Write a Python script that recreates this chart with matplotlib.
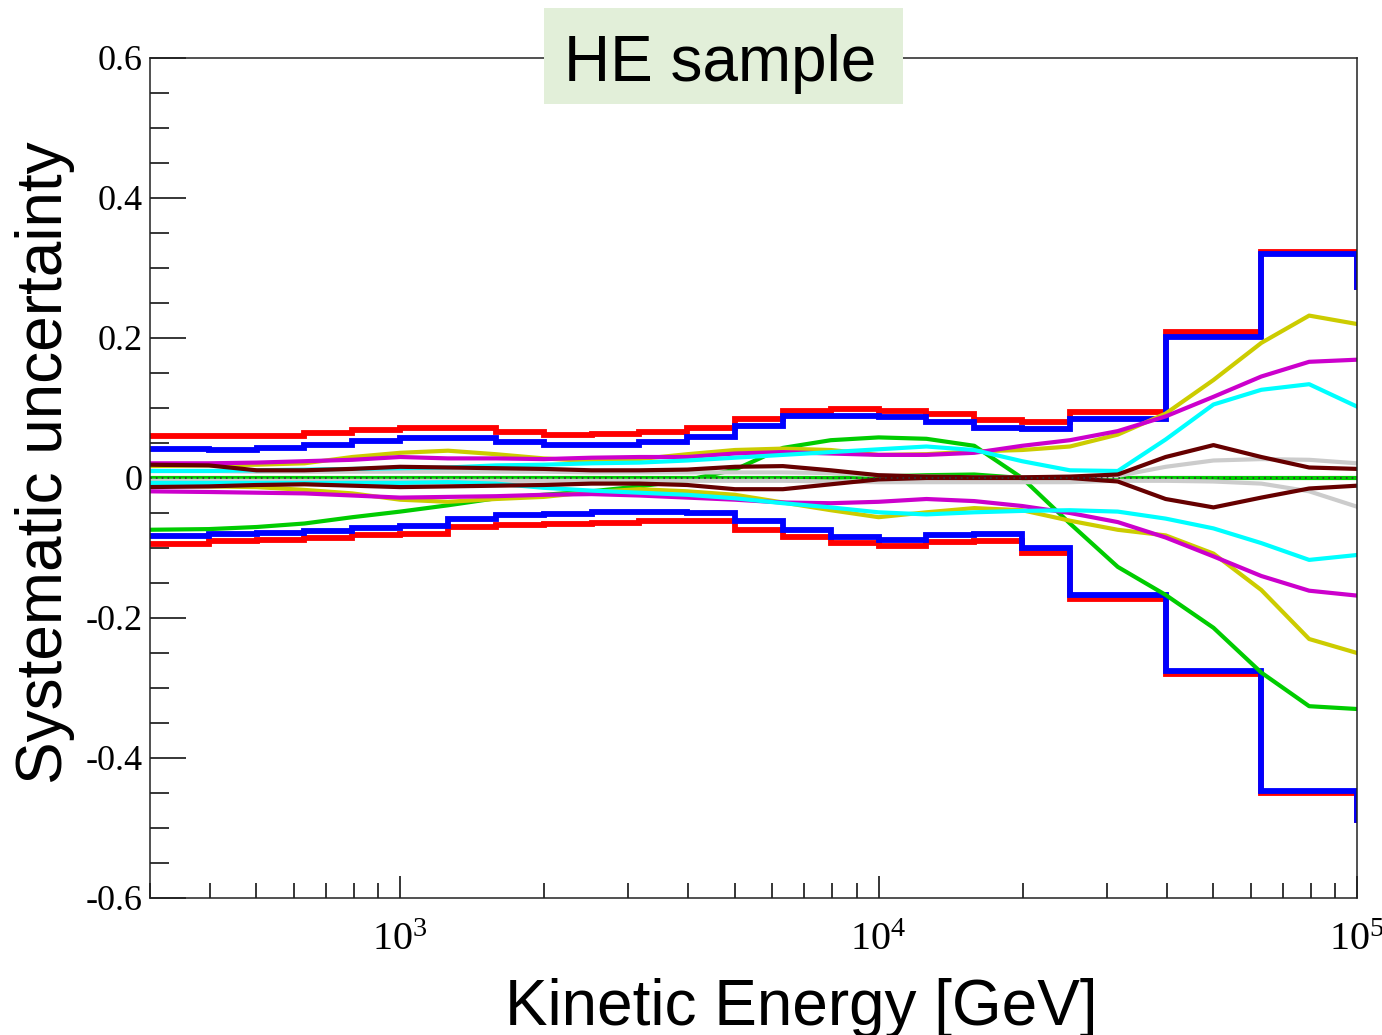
import numpy as np
import matplotlib
matplotlib.use("Agg")
import matplotlib.pyplot as plt
from matplotlib.patches import Rectangle
from matplotlib.ticker import FixedLocator, FuncFormatter, MultipleLocator, LogLocator, NullFormatter

plt.rcParams['mathtext.fontset'] = 'custom'
plt.rcParams['mathtext.rm'] = 'Liberation Serif'

# histogram bins, log10(E/GeV); last bin lies past 1e5 (only its edge shows)
log_edges = [2.4, 2.5, 2.6, 2.7, 2.8, 2.9, 3.0, 3.1, 3.2, 3.3, 3.4, 3.5, 3.6, 3.7,
             3.8, 3.9, 4.0, 4.1, 4.2, 4.3, 4.4, 4.5, 4.6, 4.7, 4.8, 4.9, 5.0, 5.1]

# total uncertainty envelopes (red and blue histograms)
red_up = [0.060, 0.060, 0.060, 0.060, 0.064, 0.068, 0.071, 0.071, 0.066, 0.062, 0.063, 0.066, 0.071,
          0.084, 0.096, 0.098, 0.096, 0.091, 0.083, 0.080, 0.095, 0.095, 0.208, 0.208, 0.323, 0.323, 0.273]
blue_up = [0.042, 0.042, 0.040, 0.043, 0.047, 0.053, 0.057, 0.057, 0.051, 0.047, 0.047, 0.051, 0.059,
           0.074, 0.089, 0.089, 0.087, 0.080, 0.072, 0.070, 0.085, 0.085, 0.202, 0.202, 0.320, 0.320, 0.273]
blue_lo = [-0.083, -0.083, -0.080, -0.078, -0.075, -0.072, -0.069, -0.058, -0.053, -0.051, -0.048, -0.048, -0.050,
           -0.062, -0.074, -0.084, -0.088, -0.081, -0.080, -0.100, -0.167, -0.167, -0.275, -0.275, -0.447, -0.447, -0.489]
red_lo = [-0.094, -0.094, -0.090, -0.088, -0.085, -0.082, -0.080, -0.070, -0.067, -0.065, -0.064, -0.062, -0.062,
          -0.074, -0.084, -0.093, -0.097, -0.091, -0.090, -0.107, -0.173, -0.173, -0.280, -0.280, -0.450, -0.450, -0.489]

# individual systematic curves, sampled at these log10(E) points
log_pts = [2.47, 2.6, 2.7, 2.8, 2.9, 3.0, 3.1, 3.2, 3.3, 3.4, 3.5, 3.6, 3.7,
           3.8, 3.9, 4.0, 4.1, 4.2, 4.3, 4.4, 4.5, 4.6, 4.7, 4.8, 4.9, 5.0]

green_up = [0.000, 0.000, 0.000, 0.000, 0.000, 0.000, 0.000, 0.000, 0.000, 0.000, 0.000, 0.000, 0.000,
            0.000, 0.000, 0.002, 0.004, 0.005, 0.000, 0.000, 0.000, 0.000, 0.000, 0.000, 0.000, 0.000]
green_lo = [-0.074, -0.073, -0.070, -0.065, -0.056, -0.048, -0.039, -0.029, -0.024, -0.019, -0.012, -0.003, 0.012,
            0.043, 0.054, 0.058, 0.056, 0.046, 0.000, -0.065, -0.127, -0.167, -0.214, -0.278, -0.326, -0.330]
grey_up = [0.010, 0.010, 0.009, 0.009, 0.009, 0.009, 0.009, 0.009, 0.009, 0.008, 0.008, 0.008, 0.008,
           0.008, 0.007, 0.004, 0.002, 0.001, 0.001, 0.001, 0.003, 0.016, 0.025, 0.027, 0.026, 0.021]
grey_lo = [-0.004, -0.004, -0.004, -0.004, -0.004, -0.004, -0.004, -0.004, -0.004, -0.004, -0.004, -0.004, -0.004,
           -0.004, -0.005, -0.006, -0.006, -0.006, -0.006, -0.006, -0.004, -0.004, -0.005, -0.008, -0.019, -0.041]
yel_up = [0.017, 0.018, 0.019, 0.021, 0.030, 0.036, 0.039, 0.034, 0.028, 0.024, 0.027, 0.034, 0.040,
          0.042, 0.040, 0.033, 0.034, 0.038, 0.040, 0.045, 0.062, 0.092, 0.140, 0.193, 0.232, 0.220]
yel_lo = [-0.011, -0.012, -0.013, -0.017, -0.022, -0.031, -0.034, -0.030, -0.027, -0.020, -0.016, -0.019, -0.024,
          -0.035, -0.046, -0.056, -0.049, -0.043, -0.046, -0.061, -0.074, -0.082, -0.108, -0.160, -0.230, -0.250]
mag_up = [0.021, 0.021, 0.022, 0.024, 0.026, 0.030, 0.028, 0.028, 0.027, 0.029, 0.030, 0.030, 0.035,
          0.037, 0.035, 0.033, 0.033, 0.036, 0.046, 0.054, 0.067, 0.088, 0.116, 0.145, 0.166, 0.169]
mag_lo = [-0.019, -0.020, -0.021, -0.022, -0.025, -0.028, -0.027, -0.026, -0.024, -0.023, -0.025, -0.028, -0.031,
          -0.035, -0.036, -0.034, -0.030, -0.033, -0.040, -0.050, -0.063, -0.085, -0.112, -0.140, -0.161, -0.168]
cyan_up = [0.010, 0.010, 0.011, 0.012, 0.013, 0.014, 0.015, 0.018, 0.019, 0.021, 0.022, 0.025, 0.029,
           0.033, 0.037, 0.041, 0.045, 0.040, 0.024, 0.011, 0.010, 0.055, 0.105, 0.126, 0.134, 0.102]
cyan_lo = [-0.007, -0.007, -0.007, -0.007, -0.007, -0.007, -0.006, -0.008, -0.014, -0.018, -0.021, -0.024, -0.029,
           -0.036, -0.042, -0.049, -0.052, -0.049, -0.047, -0.046, -0.048, -0.058, -0.072, -0.093, -0.117, -0.110]
brown_up = [0.019, 0.018, 0.011, 0.011, 0.013, 0.016, 0.015, 0.014, 0.013, 0.011, 0.011, 0.012, 0.016,
            0.017, 0.011, 0.004, 0.002, 0.001, 0.001, 0.002, 0.005, 0.030, 0.047, 0.030, 0.015, 0.013]
brown_lo = [-0.013, -0.012, -0.010, -0.009, -0.011, -0.013, -0.012, -0.011, -0.010, -0.008, -0.008, -0.010, -0.016,
            -0.016, -0.009, -0.002, 0.000, 0.000, 0.000, 0.000, -0.005, -0.030, -0.042, -0.028, -0.015, -0.011]

curves = [
    (green_up, green_lo, '#00cc00'),
    (grey_up, grey_lo, '#cccccc'),
    (yel_up, yel_lo, '#cccc00'),
    (mag_up, mag_lo, '#cc00cc'),
    (cyan_up, cyan_lo, '#00ffff'),
    (brown_up, brown_lo, '#660000'),
]

edges = 10 ** np.array(log_edges)
energy = 10 ** np.array(log_pts)

fig = plt.figure(figsize=(13.82, 10.35), dpi=100)
ax = fig.add_axes([150 / 1382, 137 / 1035, 1207 / 1382, 840 / 1035])

ax.stairs(red_up, edges, baseline=None, color='red', lw=4.2)
ax.stairs(red_lo, edges, baseline=None, color='red', lw=4.2)
ax.stairs(blue_up, edges, baseline=None, color='blue', lw=4.2)
ax.stairs(blue_lo, edges, baseline=None, color='blue', lw=4.2)

for up, lo, col in curves:
    ax.plot(energy, up, color=col, lw=3.0)
    ax.plot(energy, lo, color=col, lw=3.0)

ax.axhline(0, color='#333333', lw=1.2, ls=(0, (1, 2.5)))

ax.set_xscale('log')
ax.set_xlim(300, 1e5)
ax.set_ylim(-0.6, 0.6)

ax.xaxis.set_major_locator(FixedLocator([1e3, 1e4, 1e5]))
ax.xaxis.set_major_formatter(FuncFormatter(lambda v, p: r'$\mathregular{10^{%d}}$' % round(np.log10(v))))
ax.xaxis.set_minor_locator(LogLocator(base=10, subs=np.arange(2, 10)))
ax.xaxis.set_minor_formatter(NullFormatter())
ax.yaxis.set_major_locator(MultipleLocator(0.2))
ax.yaxis.set_minor_locator(MultipleLocator(0.05))
ax.yaxis.set_major_formatter(FuncFormatter(lambda v, p: '0' if abs(v) < 1e-9 else '%.1f' % v))

ax.tick_params(axis='y', which='major', direction='in', length=26, width=1.1, pad=5,
               labelsize=26, left=True, right=False)
ax.tick_params(axis='y', which='minor', direction='in', length=13.5, width=1.1, left=True, right=False)
ax.tick_params(axis='x', which='major', direction='in', length=16, width=1.1, pad=17,
               labelsize=29, bottom=True, top=False)
ax.tick_params(axis='x', which='minor', direction='in', length=11, width=1.1, bottom=True, top=False)
for lab in ax.get_yticklabels() + ax.get_xticklabels():
    lab.set_family('Liberation Serif')

for s in ax.spines.values():
    s.set_color('#222222')
    s.set_linewidth(1.1)

fig.text(45 / 1382, 1 - 463 / 1035, 'Systematic uncertainty', rotation=90, ha='center', va='center',
         fontsize=46, family='Liberation Sans')
fig.text(801 / 1382, 10 / 1035, 'Kinetic Energy [GeV]', ha='center', va='baseline',
         fontsize=46, family='Liberation Sans')

fig.add_artist(Rectangle((544 / 1382, 1 - 104 / 1035), 359 / 1382, 96 / 1035,
                         transform=fig.transFigure, facecolor='#e2efd9', edgecolor='none'))
fig.text(720 / 1382, 1 - 81 / 1035, 'HE sample', ha='center', va='baseline',
         fontsize=46, family='Liberation Sans')

fig.savefig('out.png', dpi=100)
